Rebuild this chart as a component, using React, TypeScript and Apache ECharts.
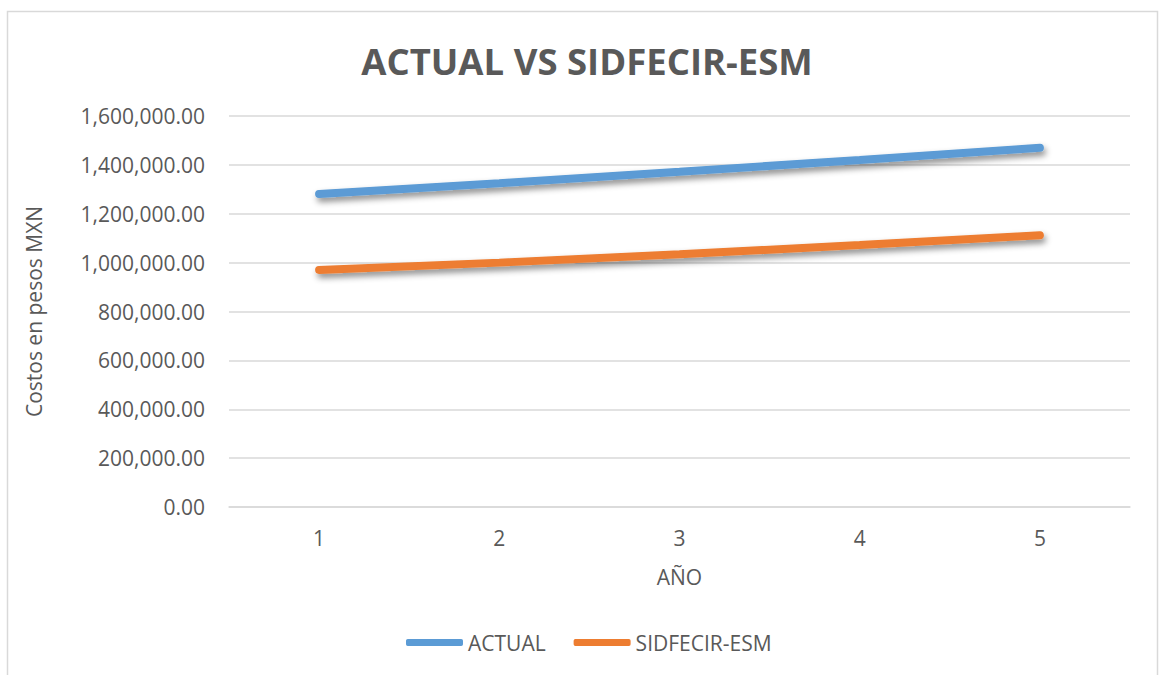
import React, { useEffect, useRef } from "react";
import * as echarts from "echarts";

// Años del horizonte de evaluación
const years = ["1", "2", "3", "4", "5"];
// Costos anuales en pesos MXN
const actualCosts = [1281000, 1325000, 1372000, 1420000, 1470000];
const sidfecirCosts = [970000, 1000000, 1034000, 1072000, 1112000];

const FONT = "'Open Sans', 'Noto Sans', sans-serif";
const TEXT = "#595959";
const FS = 21;

const fmt = (v: number) =>
  v.toLocaleString("en-US", { minimumFractionDigits: 2, maximumFractionDigits: 2 });

export default function App() {
  const ref = useRef<HTMLDivElement>(null);

  useEffect(() => {
    if (!ref.current) return;
    const chart = echarts.init(ref.current, undefined, { renderer: "svg" });
    const lineShadow = {
      shadowColor: "rgba(0,0,0,0.45)",
      shadowBlur: 6,
      shadowOffsetX: 2,
      shadowOffsetY: 4,
    };
    chart.setOption({
      animation: false,
      backgroundColor: "#ffffff",
      graphic: [
        {
          type: "rect",
          silent: true,
          shape: { x: 7.5, y: 11.5, width: 1150, height: 700 },
          style: { fill: "none", stroke: "#d9d9d9", lineWidth: 1.5 },
        },
      ],
      title: {
        text: "ACTUAL VS SIDFECIR-ESM",
        left: 582,
        textAlign: "center",
        top: 37,
        textStyle: { fontFamily: FONT, fontWeight: "bold", fontSize: 36.5, color: TEXT },
      },
      grid: { left: 229, right: 29, top: 116, bottom: 168 },
      legend: {
        top: 627,
        left: 401,
        icon: "roundRect",
        itemWidth: 57,
        itemHeight: 7,
        itemGap: 28,
        itemTextGap: 3,
        textStyle: { fontFamily: FONT, fontSize: FS, color: TEXT },
        data: ["ACTUAL", "SIDFECIR-ESM"],
      },
      xAxis: {
        type: "category",
        data: years,
        boundaryGap: true,
        name: "AÑO",
        nameLocation: "middle",
        nameGap: 59,
        nameTextStyle: { fontFamily: FONT, fontSize: FS, color: TEXT },
        axisLine: { lineStyle: { color: "#d9d9d9", width: 1.5 } },
        axisTick: { show: false },
        axisLabel: { fontFamily: FONT, fontSize: FS, color: TEXT, margin: 20 },
      },
      yAxis: {
        type: "value",
        min: 0,
        max: 1600000,
        interval: 200000,
        name: "Costos en pesos MXN",
        nameLocation: "middle",
        nameGap: 185,
        nameTextStyle: { fontFamily: FONT, fontSize: FS, color: TEXT },
        axisLine: { show: false },
        axisTick: { show: false },
        splitLine: { lineStyle: { color: "#d9d9d9", width: 1.5 } },
        axisLabel: {
          fontFamily: FONT,
          fontSize: FS,
          color: TEXT,
          margin: 24,
          formatter: (v: number) => fmt(v),
        },
      },
      series: [
        {
          name: "ACTUAL",
          type: "line",
          data: actualCosts,
          showSymbol: false,
          color: "#5B9BD5",
          lineStyle: { width: 8, cap: "round", color: "#5B9BD5", ...lineShadow },
        },
        {
          name: "SIDFECIR-ESM",
          type: "line",
          data: sidfecirCosts,
          showSymbol: false,
          color: "#ED7D31",
          lineStyle: { width: 8, cap: "round", color: "#ED7D31", ...lineShadow },
        },
      ],
    });
    return () => chart.dispose();
  }, []);

  return (
    <div
      ref={ref}
      style={{ position: "fixed", left: 0, top: 0, width: 1159, height: 675 }}
    />
  );
}
